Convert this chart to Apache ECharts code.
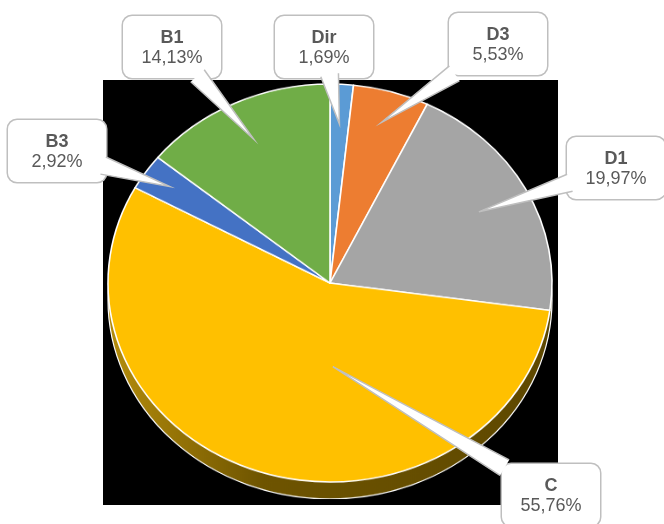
<!DOCTYPE html>
<html>
<head>
<meta charset="utf-8">
<script src="https://cdn.jsdelivr.net/npm/echarts@6/dist/echarts.min.js"></script>
<style>
html, body { margin: 0; padding: 0; background: #fff; }
#wrap { position: relative; width: 664px; height: 524px; overflow: hidden; }
#plot { position: absolute; left: 103px; top: 80px; width: 455px; height: 425px; background: #000; }
/* pie is drawn round, then squashed to the tilted (3D) look */
#pie { position: absolute; left: 0; top: 0; width: 664px; height: 524px; transform: scaleY(0.8964); transform-origin: 0 283px; }
#labels { position: absolute; left: 0; top: 0; width: 664px; height: 524px; }
</style>
</head>
<body>
<div id="wrap"><div id="plot"></div><div id="pie"></div><div id="labels"></div></div>
<script>
// data
const categories = ['Dir', 'D3', 'D1', 'C', 'B3', 'B1'];
const shares = [1.69, 5.53, 19.97, 55.76, 2.92, 14.13];
const colors = ['#5B9BD5', '#ED7D31', '#A5A5A5', '#FFC000', '#4472C4', '#70AD47'];

// layout of the callouts (box centres) and where their pointers reach
const boxX = [324, 498, 616, 551, 57, 172];
const boxY = [47, 44, 168, 495, 151, 47];
const tipReach = [0.8, 0.84, 0.76, 0.42, 0.87, 0.8];
const tipTurn = [0, 0, 0, -20, 0, 0];

const cx = 330, cy = 283, rx = 222, ry = 199;
const squash = ry / rx;
const sideDepth = 17;

const pieChart = echarts.init(document.getElementById('pie'));
pieChart.setOption({
  animation: false,
  series: [
    {
      // side of the 3D disc
      type: 'pie',
      silent: true,
      center: [cx, cy + sideDepth / squash],
      radius: rx,
      label: { show: false },
      itemStyle: {
        borderColor: '#fff',
        borderWidth: 1.2,
        color: new echarts.graphic.LinearGradient(0, 0, 1, 0, [
          { offset: 0, color: '#b58d0c' },
          { offset: 0.35, color: '#6e5400' },
          { offset: 1, color: '#5e4800' }
        ])
      },
      data: [{ value: 1 }]
    },
    {
      type: 'pie',
      silent: true,
      center: [cx, cy],
      radius: rx,
      startAngle: 90,
      clockwise: true,
      label: { show: false },
      labelLine: { show: false },
      itemStyle: { borderColor: '#fff', borderWidth: 1.6 },
      data: categories.map((c, i) => ({ name: c, value: shares[i], itemStyle: { color: colors[i] } }))
    }
  ]
});

// pointer tips, from the middle angle of each slice
let cum = 0;
const tips = shares.map((v, i) => {
  const a = ((cum + v / 2) / 100 * 360 + tipTurn[i]) * Math.PI / 180;
  cum += v;
  return [cx + tipReach[i] * rx * Math.sin(a), cy - tipReach[i] * ry * Math.cos(a)];
});

const halfW = 49, halfH = 31, baseHalf = 9;
const wedges = [];
tips.forEach((t, i) => {
  const dx = t[0] - boxX[i], dy = t[1] - boxY[i];
  const len = Math.sqrt(dx * dx + dy * dy);
  const k = Math.min(halfW / Math.abs(dx || 1e-6), halfH / Math.abs(dy || 1e-6));
  const ux = dx / len, uy = dy / len;
  const ex = boxX[i] + dx * k - ux * 3, ey = boxY[i] + dy * k - uy * 3;
  const b1 = [ex - uy * baseHalf, ey + ux * baseHalf];
  const b2 = [ex + uy * baseHalf, ey - ux * baseHalf];
  wedges.push({ type: 'polygon', z: 100, silent: true, shape: { points: [t, b1, b2] }, style: { fill: '#fff' } });
  wedges.push({ type: 'polyline', z: 101, silent: true, shape: { points: [b1, t, b2] }, style: { stroke: '#bfbfbf', lineWidth: 1.5, fill: null } });
});

const labelChart = echarts.init(document.getElementById('labels'));
labelChart.setOption({
  animation: false,
  graphic: wedges,
  series: [{
    type: 'pie',
    silent: true,
    center: [cx, cy],
    radius: rx,
    startAngle: 90,
    avoidLabelOverlap: false,
    itemStyle: { color: 'rgba(0,0,0,0)', borderWidth: 0 },
    labelLine: { show: false },
    label: {
      show: true,
      formatter: p => '{n|' + p.name + '}\n{v|' + p.value.toFixed(2).replace('.', ',') + '%}',
      backgroundColor: '#fff',
      borderColor: '#bfbfbf',
      borderWidth: 1.5,
      borderRadius: 9,
      width: 94,
      padding: [12, 2, 10, 2],
      rich: {
        n: { fontFamily: 'Liberation Sans', fontSize: 18, fontWeight: 'bold', color: '#595959', lineHeight: 20, align: 'center' },
        v: { fontFamily: 'Liberation Sans', fontSize: 18, color: '#595959', lineHeight: 20, align: 'center' }
      }
    },
    labelLayout: params => ({
      x: boxX[params.dataIndex],
      y: boxY[params.dataIndex],
      align: 'center',
      verticalAlign: 'middle'
    }),
    data: categories.map((c, i) => ({ name: c, value: shares[i] }))
  }]
});
</script>
</body>
</html>
